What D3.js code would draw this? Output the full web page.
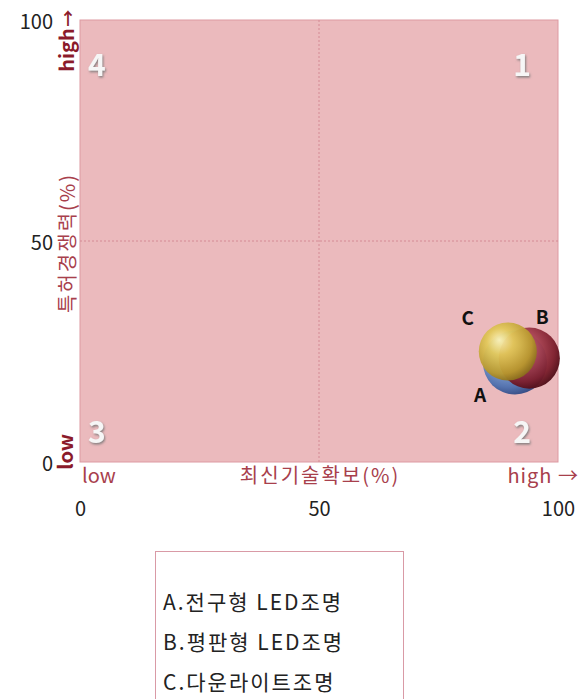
<!DOCTYPE html>
<html><head><meta charset="utf-8">
<script src="https://cdn.jsdelivr.net/npm/d3@7"></script>
<style>
body{margin:0;background:#fff;}
svg text{font-family:"Noto Sans CJK KR","Noto Sans",sans-serif;}
</style></head>
<body><svg id="c" width="587" height="699"></svg>
<script>
const labels = ["A", "B", "C"];
const names = ["A.전구형 LED조명", "B.평판형 LED조명", "C.다운라이트조명"];
const xValues = [91, 94, 89.5];   // 최신기술확보(%)
const yValues = [22.5, 23.5, 25]; // 특허경쟁력(%)
const sizes = [34, 31, 28];
const xTicks = [0, 50, 100];
const yTicks = [0, 50, 100];
const quadrants = ["1", "2", "3", "4"];
const quadX = [90, 90, 1, 1];
const quadY = [90, 7, 7, 90];

const svg = d3.select("#c");
const x = d3.scaleLinear().domain([0, 100]).range([80, 558]);
const y = d3.scaleLinear().domain([0, 100]).range([462, 20]);
const r = d3.scaleSqrt().domain([0, 34]).range([0, 32]);

const defs = svg.append("defs");
const grads = [
  {id: "gA", stops: ["#dbe8f8", "#8fb0de", "#4d6fae", "#2d4680"]},
  {id: "gB", stops: ["#e6a0a8", "#b24a5a", "#7d1e2c", "#4e0c16"]},
  {id: "gC", stops: ["#fbf2b8", "#e2c85a", "#b8982e", "#8a6e1c"]}
];
grads.forEach(g => {
  const rg = defs.append("radialGradient").attr("id", g.id)
    .attr("cx", "40%").attr("cy", "38%").attr("r", "65%").attr("fx", "35%").attr("fy", "30%");
  [0, 0.35, 0.8, 1].forEach((o, i) => rg.append("stop").attr("offset", o).attr("stop-color", g.stops[i]));
});
const f = defs.append("filter").attr("id", "sh").attr("x", "-20%").attr("y", "-20%").attr("width", "150%").attr("height", "150%");
f.append("feDropShadow").attr("dx", 1).attr("dy", 1.5).attr("stdDeviation", 0.8).attr("flood-color", "#777").attr("flood-opacity", 0.9);

// plot background
svg.append("rect").attr("x", x(0)).attr("y", y(100)).attr("width", x(100) - x(0)).attr("height", y(0) - y(100))
  .attr("fill", "#ebbabd").attr("stroke", "#dd9aa2").attr("stroke-width", 1);

// mid gridlines
svg.append("line").attr("x1", x(50)).attr("x2", x(50)).attr("y1", y(0)).attr("y2", y(100))
  .attr("stroke", "#d48a94").attr("stroke-dasharray", "2,2");
svg.append("line").attr("x1", x(0)).attr("x2", x(100)).attr("y1", y(50)).attr("y2", y(50))
  .attr("stroke", "#d48a94").attr("stroke-dasharray", "2,2");

// quadrant numbers
svg.selectAll(".q").data(quadrants).enter().append("text")
  .attr("x", (d, i) => x(quadX[i]) + 12).attr("y", (d, i) => y(quadY[i]) + 12)
  .attr("text-anchor", "middle").attr("font-size", 30).attr("font-weight", "bold")
  .attr("font-family", "'Liberation Sans',Arial,sans-serif")
  .attr("fill", "#f6f6f6").attr("filter", "url(#sh)").text(d => d);

// axes
const xAxis = svg.append("g").attr("transform", "translate(0,502)")
  .call(d3.axisBottom(x).tickValues(xTicks).tickSize(0).tickPadding(0));
xAxis.select(".domain").remove();
xAxis.selectAll("text").attr("font-size", 20).attr("fill", "#222").attr("dy", "0.71em")
  .attr("font-family", "'Noto Sans',sans-serif");
const yAxis = svg.append("g").attr("transform", "translate(53,0)")
  .call(d3.axisLeft(y).tickValues(yTicks).tickSize(0).tickPadding(0));
yAxis.select(".domain").remove();
yAxis.selectAll("text").attr("font-size", 20).attr("fill", "#222").attr("dy", "0.4em")
  .attr("font-family", "'Noto Sans',sans-serif");

// axis titles
const axisCol = "#a8404c";
svg.append("text").attr("x", x(50) + 1).attr("y", 483).attr("text-anchor", "middle")
  .attr("font-size", 20).attr("letter-spacing", 2).attr("fill", axisCol).text("최신기술확보(%)");
svg.append("text").attr("x", 579).attr("y", 483).attr("text-anchor", "end")
  .attr("font-size", 20).attr("letter-spacing", 1).attr("fill", axisCol).text("high →");
svg.append("text").attr("x", 82).attr("y", 483).attr("text-anchor", "start")
  .attr("font-size", 20).attr("fill", axisCol).text("low");
svg.append("text").attr("transform", `translate(75,${y(50) + 2}) rotate(-90)`).attr("text-anchor", "middle")
  .attr("font-size", 20).attr("letter-spacing", 2).attr("fill", axisCol).text("특허경쟁력(%)");
svg.append("text").attr("transform", `translate(74,${y(93.2)}) rotate(-90)`).attr("text-anchor", "middle")
  .attr("font-size", 20).attr("font-weight", "bold").attr("fill", "#8b1a2a").text("high");
svg.append("text").attr("x", 68).attr("y", 25).attr("text-anchor", "middle")
  .attr("font-size", 17).attr("font-weight", "bold").attr("fill", "#8b1a2a").text("↑");
svg.append("text").attr("transform", `translate(73,${y(2.3)}) rotate(-90)`).attr("text-anchor", "middle")
  .attr("font-size", 20).attr("font-weight", "bold").attr("fill", "#8b1a2a").text("low");

// bubbles
const idx = [0, 1, 2];
svg.selectAll(".b").data(idx).enter().append("circle")
  .attr("cx", i => x(xValues[i])).attr("cy", i => y(yValues[i])).attr("r", i => r(sizes[i]))
  .attr("fill", i => `url(#${grads[i].id})`).attr("opacity", 0.95);

// bubble labels
const lblDx = [-35, 13, -40];
const lblDy = [39, -34, -27];
svg.selectAll(".bl").data(idx).enter().append("text")
  .attr("x", i => x(xValues[i]) + lblDx[i]).attr("y", i => y(yValues[i]) + lblDy[i])
  .attr("text-anchor", "middle")
  .attr("font-size", 19).attr("font-weight", "bold").attr("fill", "#111")
  .attr("font-family", "'Liberation Sans',Arial,sans-serif").text(i => labels[i]);

// legend
svg.append("rect").attr("x", 155.5).attr("y", 551.5).attr("width", 248).attr("height", 160)
  .attr("fill", "#fff").attr("stroke", "#d99aa6");
svg.selectAll(".lg").data(names).enter().append("text")
  .attr("x", 163).attr("y", (d, i) => 610 + i * 40)
  .attr("font-size", 21).attr("letter-spacing", 2).attr("fill", "#222").text(d => d);
</script></body></html>
